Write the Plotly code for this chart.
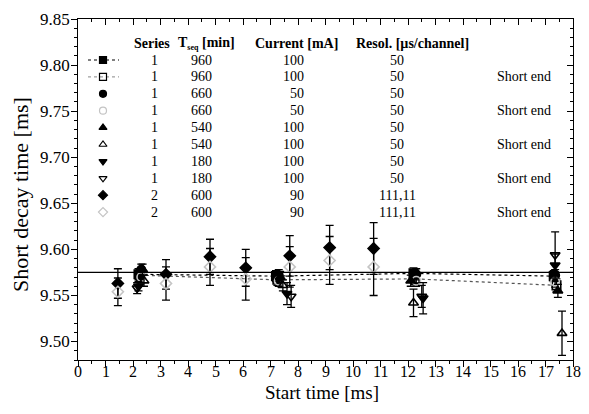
import plotly.graph_objects as go

# ---------------- data ----------------
MEAN_VALUE = 9.575

sq_f_x = [2.2, 7.2, 12.2, 17.3]
sq_f_y = [9.573, 9.571, 9.574, 9.571]
sq_f_e = [0.006, 0.006, 0.006, 0.006]

sq_o_x = [2.25, 7.25, 12.25, 17.4]
sq_o_y = [9.572, 9.567, 9.568, 9.561]
sq_o_e = [0.006, 0.006, 0.006, 0.007]

ci_f_x = [2.3, 7.3, 12.3, 17.35]
ci_f_y = [9.578, 9.572, 9.573, 9.572]
ci_f_e = [0.006, 0.006, 0.006, 0.006]

ci_o_x = [2.3, 7.3, 12.3, 17.35]
ci_o_y = [9.570, 9.566, 9.566, 9.565]
ci_o_e = [0.006, 0.006, 0.006, 0.006]

tu_f_x = [2.35, 7.35, 12.1, 17.45]
tu_f_y = [9.578, 9.570, 9.566, 9.555]
tu_f_e = [0.006, 0.006, 0.006, 0.007]

tu_o_x = [2.4, 7.45, 12.2, 17.6]
tu_o_y = [9.566, 9.561, 9.542, 9.509]
tu_o_e = [0.006, 0.006, 0.015, 0.024]

td_f_x = [2.2, 7.6, 12.55, 17.35]
td_f_y = [9.560, 9.552, 9.547, 9.583]
td_f_e = [0.005, 0.012, 0.017, 0.012]

td_o_x = [2.15, 7.75, 12.5, 17.35]
td_o_y = [9.558, 9.549, 9.549, 9.594]
td_o_e = [0.006, 0.012, 0.012, 0.025]

di_f_x = [1.45, 3.2, 4.8, 6.1, 7.7, 9.15, 10.75]
di_f_y = [9.563, 9.573, 9.592, 9.580, 9.593, 9.602, 9.601]
di_f_e = [0.016, 0.016, 0.019, 0.020, 0.022, 0.024, 0.028]

di_o_x = [1.45, 3.2, 4.8, 6.1, 7.7, 9.15, 10.75]
di_o_y = [9.554, 9.563, 9.581, 9.568, 9.581, 9.588, 9.581]
di_o_e = [0.015, 0.018, 0.020, 0.023, 0.022, 0.026, 0.031]

# axis tick labels
x_ticks = list(range(0, 19))
y_ticks = [9.50, 9.55, 9.60, 9.65, 9.70, 9.75, 9.80, 9.85]
x_title = "Start time [ms]"
y_title = "Short decay time [ms]"

# legend table
tbl_series = ["1", "1", "1", "1", "1", "1", "1", "1", "2", "2"]
tbl_tseq = ["960", "960", "660", "660", "540", "540", "180", "180", "600", "600"]
tbl_current = ["100", "100", "50", "50", "100", "100", "100", "100", "90", "90"]
tbl_resol = ["50", "50", "50", "50", "50", "50", "50", "50", "111,11", "111,11"]
tbl_note = ["", "Short end", "", "Short end", "", "Short end", "", "Short end", "", "Short end"]
headers = ["Series",
           "T<sub><span style='font-size:8px'>seq</span></sub> [min]",
           "Current [mA]", "Resol. [µs/channel]"]

FONT = "Liberation Serif"
LIGHT = "#c4c4c4"

series = [
    (sq_f_x, sq_f_y, sq_f_e, "square", "black"),
    (sq_o_x, sq_o_y, sq_o_e, "square-open", "black"),
    (ci_f_x, ci_f_y, ci_f_e, "circle", "black"),
    (ci_o_x, ci_o_y, ci_o_e, "circle-open", LIGHT),
    (tu_f_x, tu_f_y, tu_f_e, "triangle-up", "black"),
    (tu_o_x, tu_o_y, tu_o_e, "triangle-up-open", "black"),
    (td_f_x, td_f_y, td_f_e, "triangle-down", "black"),
    (td_o_x, td_o_y, td_o_e, "triangle-down-open", "black"),
    (di_f_x, di_f_y, di_f_e, "diamond", "black"),
    (di_o_x, di_o_y, di_o_e, "diamond-open", LIGHT),
]

fig = go.Figure()

fig.add_trace(go.Scatter(x=sq_f_x, y=sq_f_y, mode="lines",
                         line=dict(color="black", width=1.2, dash="dot"),
                         showlegend=False, hoverinfo="skip"))
fig.add_trace(go.Scatter(x=sq_o_x, y=sq_o_y, mode="lines",
                         line=dict(color="#555555", width=1.2, dash="dot"),
                         showlegend=False, hoverinfo="skip"))

for xs, ys, es, sym, col in series:
    fig.add_trace(go.Scatter(
        x=xs, y=ys, mode="markers",
        marker=dict(symbol=sym, size=8.5, color=col,
                    line=dict(color=col, width=1.6)),
        error_y=dict(type="data", array=es, visible=True, color="black",
                     thickness=1.3, width=4),
        showlegend=False))

# ---------------- layout geometry (figure sits inside an 8px page margin) ----------------
FW, FH = 581, 398
L, R, T, B = 70, 565, 11, 352
W, H = R - L, B - T
OFF = 8  # page offset of the figure


def px2x(px):
    return (px - OFF - L) / W


def px2y(py):
    return 1 - (py - OFF - T) / H


row0, dy = 60, 16.9
rows_y = [px2y(row0 + i * dy) for i in range(len(tbl_series))]
sym_x = px2x(103)

for i, (xs, ys, es, sym, col) in enumerate(series):
    if i < 2:
        fig.add_trace(go.Scatter(
            x=[px2x(88), sym_x, px2x(119)], y=[rows_y[i]] * 3,
            mode="lines", line=dict(color="black" if i == 0 else "#888888", width=1, dash="dot"),
            xaxis="x3", yaxis="y3", showlegend=False, hoverinfo="skip"))
    fig.add_trace(go.Scatter(
        x=[sym_x], y=[rows_y[i]], mode="markers",
        marker=dict(symbol=sym, size=7, color=col, line=dict(color=col, width=1.2)),
        xaxis="x3", yaxis="y3", showlegend=False, hoverinfo="skip"))

ann = []
hdr_y = px2y(43)
hdr_pos = [(172, "right"), (176, "left"), (296, "center"), (412, "center")]
for (hx, anc), ht in zip(hdr_pos, headers):
    ann.append(dict(x=px2x(hx), y=hdr_y, xref="paper", yref="paper", text="<b>" + ht + "</b>",
                    showarrow=False, xanchor=anc, yanchor="middle",
                    font=dict(family=FONT, size=14, color="black")))
for i in range(len(tbl_series)):
    y = rows_y[i]
    ann.append(dict(x=px2x(154), y=y, xref="paper", yref="paper", text=tbl_series[i],
                    showarrow=False, xanchor="center", yanchor="middle",
                    font=dict(family=FONT, size=14, color="black")))
    ann.append(dict(x=px2x(201), y=y, xref="paper", yref="paper", text=tbl_tseq[i],
                    showarrow=False, xanchor="center", yanchor="middle",
                    font=dict(family=FONT, size=14, color="black")))
    ann.append(dict(x=px2x(306), y=y, xref="paper", yref="paper", text=tbl_current[i],
                    showarrow=False, xanchor="right", yanchor="middle",
                    font=dict(family=FONT, size=14, color="black")))
    ann.append(dict(x=px2x(397), y=y, xref="paper", yref="paper", text=tbl_resol[i],
                    showarrow=False, xanchor="center", yanchor="middle",
                    font=dict(family=FONT, size=14, color="black")))
    if tbl_note[i]:
        ann.append(dict(x=px2x(553), y=y, xref="paper", yref="paper", text=tbl_note[i],
                        showarrow=False, xanchor="right", yanchor="middle",
                        font=dict(family=FONT, size=14, color="black")))

# tick labels (placed on the library's axis scales)
for xv in x_ticks:
    ann.append(dict(x=xv, y=0, xref="x", yref="paper", text=str(xv), showarrow=False,
                    xanchor="center", yanchor="top", yshift=-1,
                    font=dict(family=FONT, size=16, color="black")))
for yv in y_ticks:
    ann.append(dict(x=0, y=yv, xref="paper", yref="y", text=f"{yv:.2f}", showarrow=False,
                    xanchor="right", yanchor="middle", xshift=-6,
                    font=dict(family=FONT, size=17, color="black")))
# axis titles
ann.append(dict(x=px2x(322), y=px2y(392), xref="paper", yref="paper", text=x_title,
                showarrow=False, xanchor="center", yanchor="middle",
                font=dict(family=FONT, size=19, color="black")))
ann.append(dict(x=px2x(20), y=px2y(195), xref="paper", yref="paper", text=y_title,
                showarrow=False, xanchor="center", yanchor="middle", textangle=-90,
                font=dict(family=FONT, size=22, color="black")))

XR = [0, 18]
YR = [9.48, 9.85]

fig.update_layout(
    width=FW, height=FH,
    margin=dict(l=L, r=FW - R, t=T, b=FH - B, autoexpand=False),
    paper_bgcolor="white", plot_bgcolor="white",
    font=dict(family=FONT, color="black"),
    annotations=ann,
    shapes=[dict(type="line", xref="paper", yref="y", x0=0, x1=1,
                 y0=MEAN_VALUE, y1=MEAN_VALUE, line=dict(color="black", width=1.3))],
    xaxis=dict(range=XR, dtick=1, tick0=0, ticks="outside", ticklen=6, tickwidth=1,
               tickcolor="black", showline=True, linecolor="black", linewidth=1.2,
               showgrid=False, zeroline=False, automargin=False, showticklabels=False,
               minor=dict(dtick=0.5, ticks="outside", ticklen=3, tickcolor="black", showgrid=False)),
    yaxis=dict(range=YR, dtick=0.05, tick0=9.5, ticks="outside", ticklen=6,
               tickwidth=1, tickcolor="black", showline=True, linecolor="black", linewidth=1.2,
               showgrid=False, zeroline=False, automargin=False, showticklabels=False,
               minor=dict(dtick=0.01, ticks="outside", ticklen=3, tickcolor="black", showgrid=False)),
    xaxis2=dict(range=XR, overlaying="x", side="top", dtick=1, tick0=0, ticks="inside",
                ticklen=6, tickcolor="black", showticklabels=False, showline=True, automargin=False,
                linecolor="black", linewidth=1.2, showgrid=False, zeroline=False,
                minor=dict(dtick=0.5, ticks="inside", ticklen=3, tickcolor="black")),
    yaxis2=dict(range=YR, overlaying="y", side="right", dtick=0.05, tick0=9.5, ticks="inside",
                ticklen=6, tickcolor="black", showticklabels=False, showline=True, automargin=False,
                linecolor="black", linewidth=1.2, showgrid=False, zeroline=False,
                minor=dict(dtick=0.01, ticks="inside", ticklen=3, tickcolor="black")),
    xaxis3=dict(range=[0, 1], overlaying="x", visible=False, fixedrange=True),
    yaxis3=dict(range=[0, 1], overlaying="y", visible=False, fixedrange=True),
)

fig.add_trace(go.Scatter(x=[None], y=[None], xaxis="x2", yaxis="y2", showlegend=False))

fig.write_html("out.html")
